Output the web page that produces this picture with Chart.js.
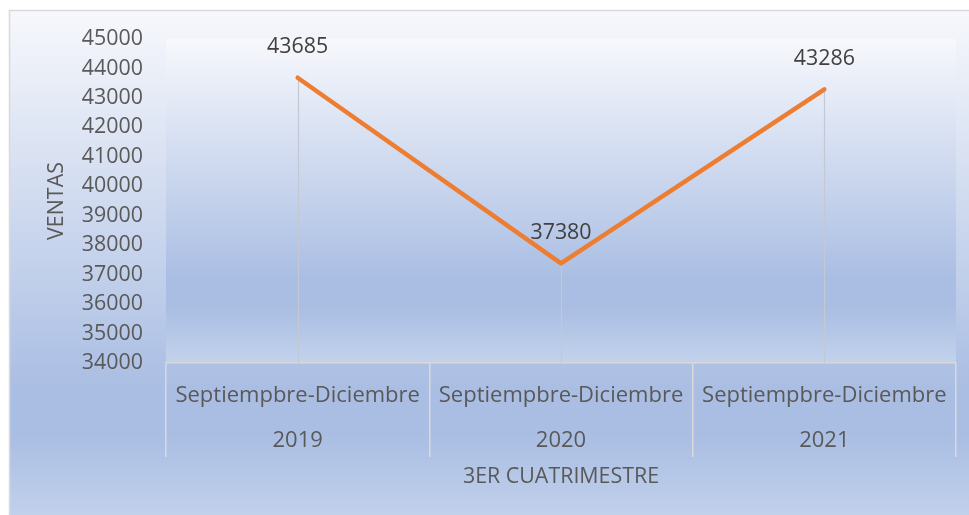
<!DOCTYPE html>
<html>
<head>
<meta charset="utf-8">
<script src="https://cdn.jsdelivr.net/npm/chart.js@4/dist/chart.umd.min.js"></script>
<style>
  html, body { margin: 0; padding: 0; background: #fff; }
  #wrap { width: 969px; height: 515px; }
</style>
</head>
<body>
<div id="wrap"><canvas id="chart" width="969" height="515"></canvas></div>
<script>
const periods = ["Septiempbre-Diciembre", "Septiempbre-Diciembre", "Septiempbre-Diciembre"];
const years = ["2019", "2020", "2021"];
const ventas = [43685, 37380, 43286];
const yMin = 34000;
const yMax = 45000;
const yStep = 1000;

const FONT = "'Open Sans', sans-serif";
const FSIZE = 21.4;

function lightGradient(ctx, y0, y1) {
  const g = ctx.createLinearGradient(0, y0, 0, y1);
  g.addColorStop(0, "#f7f8fc");
  g.addColorStop(0.74, "#aabee3");
  g.addColorStop(0.83, "#aabee3");
  g.addColorStop(1, "#c3d2ec");
  return g;
}

const backgrounds = {
  id: "backgrounds",
  beforeDraw(chart) {
    const { ctx, chartArea: a } = chart;
    ctx.save();
    // outer chart box
    ctx.fillStyle = lightGradient(ctx, 10, 522);
    ctx.fillRect(9, 10, 980, 520);
    ctx.strokeStyle = "#d9d9d9";
    ctx.lineWidth = 1.5;
    ctx.strokeRect(9.5, 10.5, 980, 520);
    // plot area
    ctx.fillStyle = lightGradient(ctx, a.top, a.bottom);
    ctx.fillRect(a.left, a.top, a.right - a.left, a.bottom - a.top);
    ctx.restore();
  },
};

const dropLines = {
  id: "dropLines",
  beforeDatasetsDraw(chart) {
    const { ctx, chartArea: a } = chart;
    const meta = chart.getDatasetMeta(0);
    ctx.save();
    ctx.strokeStyle = "#c3c8d2";
    ctx.lineWidth = 1.2;
    meta.data.forEach((p) => {
      ctx.beginPath();
      ctx.moveTo(Math.round(p.x) + 0.5, p.y);
      ctx.lineTo(Math.round(p.x) + 0.5, a.bottom);
      ctx.stroke();
    });
    ctx.restore();
  },
};

const valueLabels = {
  id: "valueLabels",
  afterDatasetsDraw(chart) {
    const { ctx } = chart;
    const meta = chart.getDatasetMeta(0);
    ctx.save();
    ctx.fillStyle = "#404040";
    ctx.font = FSIZE + "px " + FONT;
    ctx.textAlign = "center";
    ctx.textBaseline = "middle";
    meta.data.forEach((p, i) => {
      ctx.fillText(String(ventas[i]), p.x, p.y - 31);
    });
    ctx.restore();
  },
};

new Chart(document.getElementById("chart"), {
  type: "line",
  data: {
    labels: years.map((y, i) => [periods[i], y]),
    datasets: [
      {
        label: "Ventas",
        data: ventas,
        borderColor: "#ed7d31",
        borderWidth: 4.5,
        borderCapStyle: "round",
        borderJoinStyle: "round",
        pointRadius: 0,
        tension: 0,
      },
    ],
  },
  options: {
    responsive: false,
    animation: false,
    layout: { padding: { top: 39, right: 13, left: 0, bottom: 0 } },
    plugins: { legend: { display: false }, tooltip: { enabled: false } },
    scales: {
      x: {
        offset: true,
        afterFit: (s) => { s.height = 152; },
        grid: {
          offset: true,
          drawOnChartArea: false,
          drawTicks: true,
          tickLength: 94,
          color: "#d9d9d9",
          lineWidth: 1.5,
        },
        border: { display: true, color: "#d9d9d9", width: 1.5 },
        ticks: {
          color: "#595959",
          font: { family: FONT, size: 22, lineHeight: "45px" },
          padding: 10 - 94,
          maxRotation: 0,
          autoSkip: false,
        },
        title: {
          display: true,
          text: "3ER CUATRIMESTRE",
          color: "#595959",
          font: { family: FONT, size: FSIZE },
          padding: { top: 0, bottom: 25 },
        },
      },
      y: {
        min: yMin,
        max: yMax,
        afterFit: (s) => { s.width = 166; },
        grid: { display: false, drawTicks: false },
        border: { display: false },
        ticks: {
          stepSize: yStep,
          color: "#595959",
          font: { family: FONT, size: FSIZE },
          padding: 23,
          callback: (v) => String(v),
        },
        title: {
          display: true,
          text: "VENTAS",
          color: "#595959",
          font: { family: FONT, size: FSIZE },
          padding: { top: 44, bottom: 0 },
        },
      },
    },
  },
  plugins: [backgrounds, dropLines, valueLabels],
});
</script>
</body>
</html>
